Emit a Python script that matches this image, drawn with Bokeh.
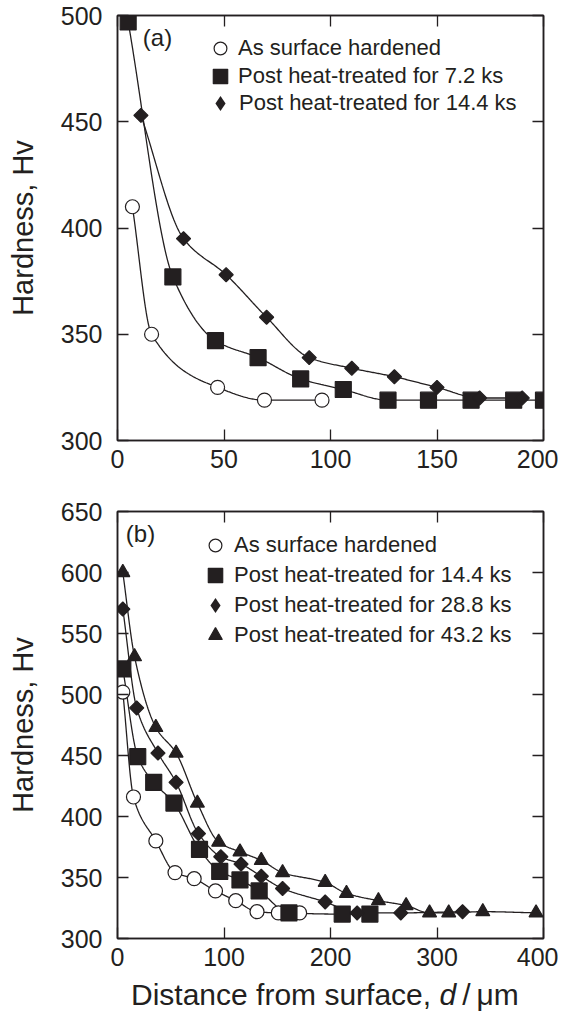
import numpy as np
from bokeh.plotting import figure
from bokeh.models import (LinearAxis, FixedTicker, Legend, LegendItem, Label, Range1d, Div,
                          CustomLabelingPolicy)
from bokeh.layouts import column
from bokeh.embed import file_html
from bokeh.resources import INLINE

FONT = "Liberation Sans"
INK = "#231f20"

# ---------------- Panel (a) data ----------------
a_labels = ["As surface hardened", "Post heat-treated for 7.2 ks", "Post heat-treated for 14.4 ks"]
a_as_x = [7, 16, 47, 69, 96]
a_as_y = [410, 350, 325, 319, 319]
a_72_x = [5, 26, 46, 66, 86, 106, 127, 146, 166, 186, 200]
a_72_y = [497, 377, 347, 339, 329, 324, 319, 319, 319, 319, 319]
a_144_x = [11, 31, 51, 70, 90, 110, 130, 150, 170, 190]
a_144_y = [453, 395, 378, 358, 339, 334, 330, 325, 320, 320]
a_xticks = [0, 50, 100, 150, 200]
a_yticks = [300, 350, 400, 450, 500]

# ---------------- Panel (b) data ----------------
b_labels = ["As surface hardened", "Post heat-treated for 14.4 ks",
            "Post heat-treated for 28.8 ks", "Post heat-treated for 43.2 ks"]
b_as_x = [5, 15, 36, 54, 72, 92, 111, 131, 151, 171]
b_as_y = [502, 416, 380, 354, 349, 339, 331, 322, 321, 321]
b_144_x = [5, 19, 34, 53, 77, 96, 115, 133, 161, 211, 237]
b_144_y = [521, 449, 428, 411, 373, 355, 348, 339, 321, 320, 320]
b_288_x = [5, 18, 38, 55, 76, 97, 116, 135, 155, 195, 225, 266, 324]
b_288_y = [570, 489, 452, 428, 386, 367, 361, 351, 341, 330, 321, 321, 322]
b_432_x = [5, 16, 36, 55, 75, 95, 115, 135, 155, 195, 215, 245, 271, 293, 311, 343, 393]
b_432_y = [600, 531, 473, 452, 411, 379, 371, 364, 354, 346, 337, 331, 327, 321, 321, 322, 321]
b_xticks = [0, 100, 200, 300, 400]
b_yticks = [300, 350, 400, 450, 500, 550, 600, 650]

x_title_html = 'Distance from surface, <i>d</i>&thinsp;/&thinsp;\u03bcm'


def smooth(x, y, n=40):
    """Monotone cubic (Fritsch-Carlson) path through the data points, for drawing."""
    x = np.asarray(x, float)
    y = np.asarray(y, float)
    h = np.diff(x)
    d = np.diff(y) / h
    m = np.zeros_like(y)
    m[0], m[-1] = d[0], d[-1]
    for k in range(1, len(x) - 1):
        if d[k - 1] * d[k] > 0:
            w1 = 2 * h[k] + h[k - 1]
            w2 = h[k] + 2 * h[k - 1]
            m[k] = (w1 + w2) / (w1 / d[k - 1] + w2 / d[k])
    xs, ys = [], []
    t = np.linspace(0, 1, n, endpoint=False)
    for k in range(len(x) - 1):
        h00 = 2 * t**3 - 3 * t**2 + 1
        h10 = t**3 - 2 * t**2 + t
        h01 = -2 * t**3 + 3 * t**2
        h11 = t**3 - t**2
        xs.append(x[k] + t * h[k])
        ys.append(h00 * y[k] + h10 * h[k] * m[k] + h01 * y[k + 1] + h11 * h[k] * m[k + 1])
    xs.append([x[-1]])
    ys.append([y[-1]])
    return np.concatenate(xs), np.concatenate(ys)


NO_LABELS = """
try {
  for (let i = 0; i < indices.size; i++) { indices.unset(i) }
} catch (e) {}
return indices
"""


def style_axis(ax, ticks, labels=True):
    ax.ticker = FixedTicker(ticks=ticks)
    ax.major_tick_in = 11
    ax.major_tick_out = 0
    ax.minor_tick_line_color = None
    ax.axis_line_color = INK
    ax.axis_line_width = 1.5
    ax.major_tick_line_color = INK
    ax.major_tick_line_width = 1.3
    ax.major_label_text_font = FONT
    ax.major_label_text_color = INK
    if labels:
        ax.major_label_text_font_size = "25px"
    else:
        ax.major_label_text_font_size = "0px"
        ax.major_label_standoff = 0
        ax.major_label_policy = CustomLabelingPolicy(code=NO_LABELS)


def make_fig(xr, yr, w, h, xt, yt, mb_top, mb_bottom):
    p = figure(width=w, height=h, x_range=Range1d(*xr), y_range=Range1d(*yr),
               output_backend="svg", toolbar_location=None,
               min_border_left=117, min_border_right=15,
               min_border_top=mb_top, min_border_bottom=mb_bottom)
    p.grid.visible = False
    p.outline_line_color = INK
    p.outline_line_width = 1.5
    p.background_fill_color = "white"
    p.border_fill_color = "white"
    style_axis(p.xaxis[0], xt)
    style_axis(p.yaxis[0], yt)
    p.xaxis[0].major_label_standoff = 9
    p.yaxis[0].major_label_standoff = 15
    p.yaxis[0].axis_label = "Hardness, Hv"
    p.yaxis[0].axis_label_text_font = FONT
    p.yaxis[0].axis_label_text_font_size = "29px"
    p.yaxis[0].axis_label_text_font_style = "normal"
    p.yaxis[0].axis_label_text_color = INK
    p.yaxis[0].axis_label_standoff = 19
    top = LinearAxis()
    style_axis(top, xt, labels=False)
    right = LinearAxis()
    style_axis(right, yt, labels=False)
    p.add_layout(top, "above")
    p.add_layout(right, "right")
    return p


def add_series(p, specs):
    for xs, ys, *_ in specs:
        sx, sy = smooth(xs, ys)
        p.line(sx, sy, line_color=INK, line_width=1.3)
    rends = []
    for xs, ys, marker, size, fill, angle in specs:
        r = p.scatter(xs, ys, marker=marker, size=size, fill_color=fill, line_color=INK,
                      line_width=1.2, angle=angle)
        rends.append(r)
    return rends


def add_legend_rows(p, labels, rends, boxes, cx, text_x, rows, frame_left, frame_bottom):
    # one single-item legend per row, so each row sits where the reference has it
    for lab, r, gw, cy in zip(labels, rends, boxes, rows):
        leg = Legend(items=[LegendItem(label=lab, renderers=[r])],
                     location=(cx - frame_left - gw / 2, frame_bottom - cy - gw / 2),
                     glyph_width=gw, glyph_height=gw,
                     label_standoff=max(0, int(round(text_x - cx - gw / 2))),
                     padding=0, margin=0, spacing=0,
                     border_line_alpha=0, background_fill_alpha=0,
                     label_text_font=FONT, label_text_font_size="22px",
                     label_text_color=INK)
        p.add_layout(leg)


# ---------------- Figure (a) ----------------
pa = make_fig((0, 200), (300, 500), 558, 480, a_xticks, a_yticks, 15, 40)
ra = add_series(pa, [
    (a_as_x, a_as_y, "circle", 14, "white", 0),
    (a_72_x, a_72_y, "square", 16, INK, 0),
    (a_144_x, a_144_y, "square", 10, INK, np.pi / 4),
])
# legend-only glyph for the diamond (zero size in the plot itself)
ra_dia = pa.scatter(a_144_x, a_144_y, marker="diamond", size=0, fill_color=INK, line_color=INK,
                    line_width=0)
add_legend_rows(pa, a_labels, [ra[0], ra[1], ra_dia], [32, 36, 38],
                220, 238, [48, 76, 103], 117, 440)
pa.add_layout(Label(x=40, y=403, x_units="screen", y_units="screen", text="(a)",
                    text_align="center", text_baseline="middle", text_font=FONT,
                    text_font_size="24px", text_color=INK))

# ---------------- Figure (b) ----------------
pb = make_fig((0, 400), (300, 650), 558, 498, b_xticks, b_yticks, 31, 40)
rb = add_series(pb, [
    (b_as_x, b_as_y, "circle", 14, "white", 0),
    (b_144_x, b_144_y, "square", 16, INK, 0),
    (b_288_x, b_288_y, "square", 10, INK, np.pi / 4),
    (b_432_x, b_432_y, "triangle", 14, INK, 0),
])
rb_dia = pb.scatter(b_288_x, b_288_y, marker="diamond", size=0, fill_color=INK, line_color=INK,
                    line_width=0)
add_legend_rows(pb, b_labels, [rb[0], rb[1], rb_dia, rb[3]], [32, 36, 38, 34],
                215, 234, [545, 575, 605, 635], 117, 938)
pb.add_layout(Label(x=23, y=405, x_units="screen", y_units="screen", text="(b)",
                    text_align="center", text_baseline="middle", text_font=FONT,
                    text_font_size="24px", text_color=INK))

x_title = Div(text=x_title_html, width=420, height=36, margin=(0, 0, 0, 131),
              styles={"font-family": FONT, "font-size": "30px", "color": INK,
                      "line-height": "34px", "white-space": "nowrap"})

layout = column(pa, pb, x_title, spacing=0)
open("out.html", "w").write(file_html(layout, INLINE))
